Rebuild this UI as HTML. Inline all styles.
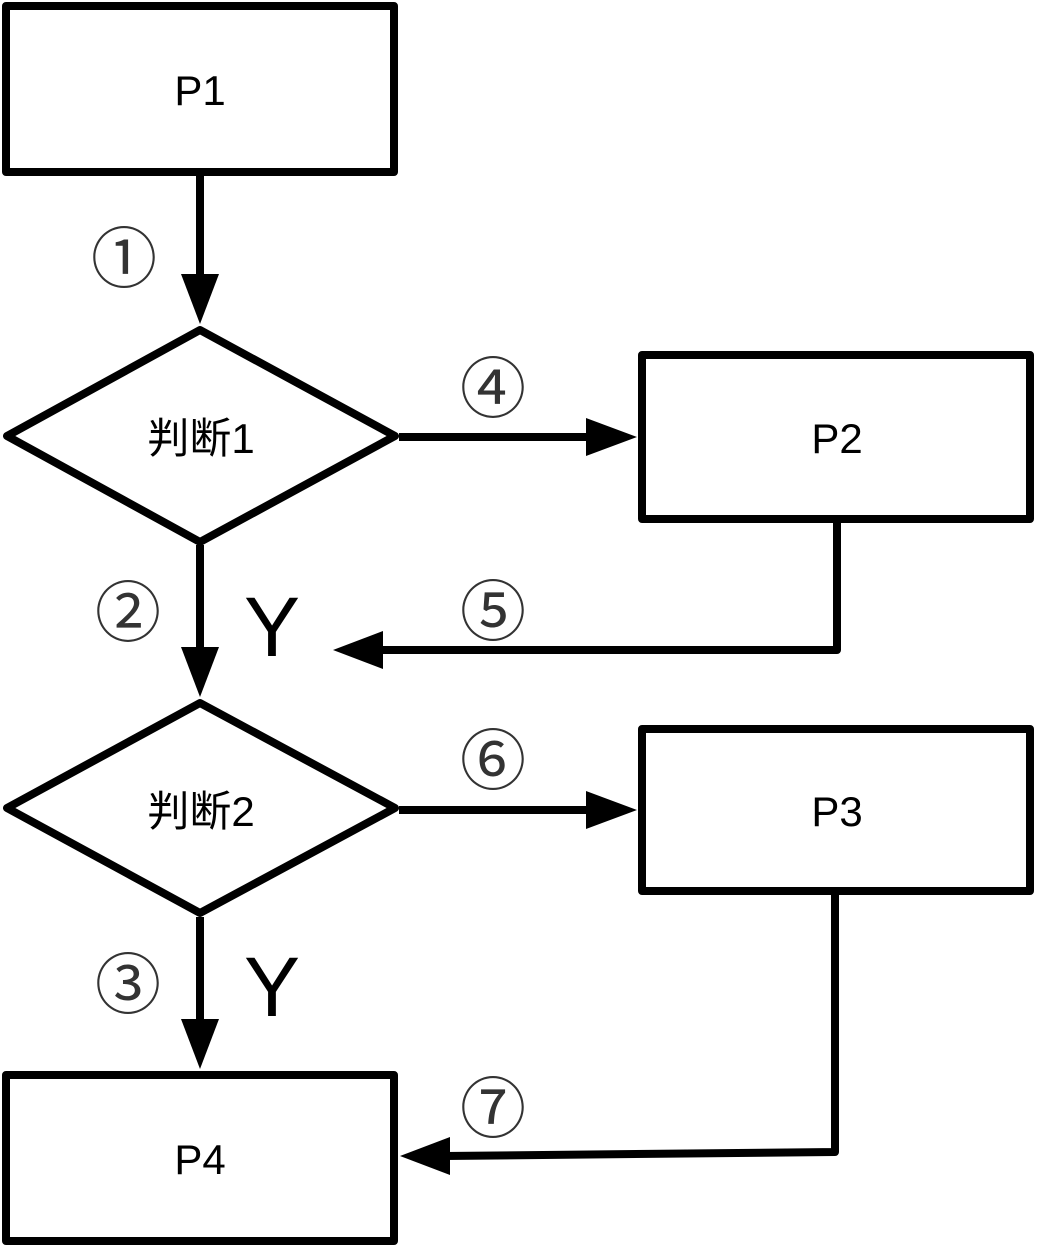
<!DOCTYPE html>
<html><head><meta charset="utf-8"><style>html,body{margin:0;padding:0;background:#fff}</style></head><body>
<svg width="1038" height="1248" viewBox="0 0 1038 1248" xmlns="http://www.w3.org/2000/svg">
<g fill="none" stroke="#000" stroke-width="8" stroke-linejoin="round">
<rect x="6" y="6" width="388" height="166"/>
<rect x="642" y="355" width="388" height="164"/>
<rect x="642" y="729" width="388" height="162"/>
<rect x="6" y="1075" width="388" height="166"/>
<polygon points="200,330 395,436 200,542 7,436"/>
<polygon points="200,703 395,808 200,913 7,808"/>
<line x1="200" y1="176" x2="200" y2="280"/>
<line x1="200" y1="545" x2="200" y2="652"/>
<line x1="200" y1="917" x2="200" y2="1025"/>
<line x1="399" y1="437" x2="592" y2="437"/>
<line x1="399" y1="810" x2="592" y2="810"/>
<polyline points="837,521 837,650 378,650"/>
<polyline points="835,893 835,1152 445,1156"/>
</g>
<g fill="#000">
<polygon points="181,274 219,274 200,324"/>
<polygon points="181,647 219,647 200,697"/>
<polygon points="181,1019 219,1019 200,1069"/>
<polygon points="586,418 586,456 637,437"/>
<polygon points="586,791 586,829 637,810"/>
<polygon points="383,631 383,669 333,650"/>
<polygon points="450,1137 450,1175 400,1156"/>
</g>
<g font-family="Liberation Sans, Noto Sans CJK SC, sans-serif" font-size="42" text-anchor="middle" fill="#000">
<text x="200" y="105">P1</text>
<text x="837" y="453">P2</text>
<text x="837" y="826">P3</text>
<text x="200" y="1174">P4</text>
<text x="201" y="453">判断1</text>
<text x="201" y="826">判断2</text>
</g>
<g font-family="Liberation Sans, sans-serif" font-size="84" text-anchor="middle" fill="#000">
<text x="272" y="656">Y</text>
<text x="272" y="1016">Y</text>
</g>
<g font-family="Noto Sans CJK SC, DejaVu Sans, sans-serif" font-size="66" text-anchor="middle" fill="#333">
<text x="124" y="282">①</text>
<text x="128" y="636">②</text>
<text x="128" y="1008">③</text>
<text x="493" y="412">④</text>
<text x="493" y="635">⑤</text>
<text x="493" y="784">⑥</text>
<text x="493" y="1132">⑦</text>
</g>
</svg>
</body></html>
